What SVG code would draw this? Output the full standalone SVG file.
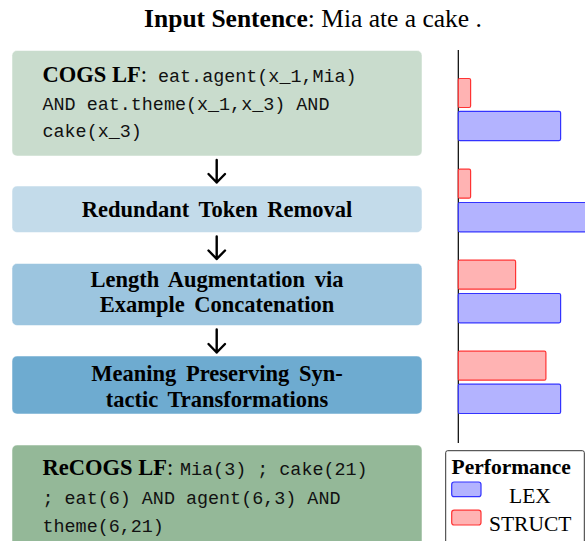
<svg xmlns="http://www.w3.org/2000/svg" width="585" height="541" viewBox="0 0 585 541">
<defs>
<style>
.serif{font-family:"Liberation Serif","Times New Roman",serif;fill:#000}
.b{font-weight:bold}
.h{font-size:22.5px}
.mono{font-family:"Liberation Mono","DejaVu Sans Mono",monospace;font-size:18.4px;fill:#111}
.box{stroke:#ffffff;stroke-opacity:0.5;stroke-width:1}
.arrow{fill:none;stroke:#000;stroke-width:2.4;stroke-linecap:round;stroke-linejoin:round}
.lex{fill:#b3b3ff;stroke:#3333ff;stroke-width:1.2}
.struct{fill:#ffb3b3;stroke:#ff3333;stroke-width:1.2}
</style>
</defs>
<rect width="585" height="541" fill="#ffffff"/>
<g id="title">
<text class="serif" x="313" y="27" font-size="25.5" text-anchor="middle"><tspan class="b">Input Sentence</tspan>:  Mia ate a cake .</text>
</g>
<g id="cogs">
<rect class="box" x="12" y="50.5" width="410" height="105.5" rx="5" fill="#c9dccd"/>
<text x="42.5" y="82"><tspan class="serif b h">COGS LF</tspan><tspan class="serif h">:</tspan><tspan class="mono" x="158">eat.agent(x_1,Mia)</tspan></text>
<text class="mono" x="42.5" y="109.5">AND eat.theme(x_1,x_3) AND</text>
<text class="mono" x="42.5" y="137">cake(x_3)</text>
</g>
<g id="redundant">
<rect class="box" x="12" y="186" width="410" height="46.5" rx="5" fill="#c3dbea"/>
<text class="serif b h" x="217" y="217" text-anchor="middle" word-spacing="4">Redundant Token Removal</text>
</g>
<g id="length">
<rect class="box" x="12" y="263.5" width="410" height="62" rx="5" fill="#9cc5df"/>
<text class="serif b h" x="217" y="287" text-anchor="middle" word-spacing="4">Length Augmentation via</text>
<text class="serif b h" x="217" y="312" text-anchor="middle" word-spacing="4">Example Concatenation</text>
</g>
<g id="meaning">
<rect class="box" x="12" y="356" width="410" height="58" rx="5" fill="#6eabd0"/>
<text class="serif b h" x="217" y="381" text-anchor="middle" word-spacing="4">Meaning Preserving Syn-</text>
<text class="serif b h" x="217" y="406.5" text-anchor="middle" word-spacing="4">tactic Transformations</text>
</g>
<g id="recogs">
<rect class="box" x="12" y="445" width="410" height="110" rx="5" fill="#94b898"/>
<text x="42.5" y="475"><tspan class="serif b h">ReCOGS LF</tspan><tspan class="serif h">:</tspan><tspan class="mono" x="180">Mia(3) ; cake(21)</tspan></text>
<text class="mono" x="42.5" y="503.5">; eat(6) AND agent(6,3) AND</text>
<text class="mono" x="42.5" y="531.5">theme(6,21)</text>
</g>
<g id="connectors">
<path class="arrow" d="M216.7,160 V182.5 M208.5,174 L216.7,182.5 L225,174"/>
<path class="arrow" d="M216.7,236.5 V259 M208.5,250.5 L216.7,259 L225,250.5"/>
<path class="arrow" d="M216.7,329.5 V352.5 M208.5,344 L216.7,352.5 L225,344"/>
</g>
<g id="chart">
<line x1="458.3" y1="50" x2="458.3" y2="443" stroke="#000" stroke-width="1.2"/>
<rect class="struct" x="458.3" y="78.5" width="12.3" height="29" rx="1.5"/>
<rect class="lex" x="458.3" y="111.3" width="102.3" height="29.3" rx="1.5"/>
<rect class="struct" x="458.3" y="169.2" width="12.3" height="29" rx="1.5"/>
<rect class="lex" x="458.3" y="202.5" width="140" height="29.3" rx="1.5"/>
<rect class="struct" x="458.3" y="260.2" width="57.3" height="29" rx="1.5"/>
<rect class="lex" x="458.3" y="293.5" width="102.3" height="29.3" rx="1.5"/>
<rect class="struct" x="458.3" y="351.2" width="87.6" height="29" rx="1.5"/>
<rect class="lex" x="458.3" y="384.2" width="102.3" height="29.3" rx="1.5"/>
</g>
<g id="legend">
<rect x="445.7" y="450.7" width="138.6" height="100" rx="2" fill="#fff" stroke="#333" stroke-width="1"/>
<text class="serif b" x="451.5" y="473.5" font-size="21.5">Performance</text>
<rect class="lex" x="451.7" y="482" width="29.3" height="14.7" rx="2.5"/>
<text class="serif" x="509" y="502.7" font-size="21.5">LEX</text>
<rect class="struct" x="451.7" y="510.2" width="29.3" height="14.8" rx="2.5"/>
<text class="serif" x="489" y="530.7" font-size="21.5">STRUCT</text>
</g>
</svg>
